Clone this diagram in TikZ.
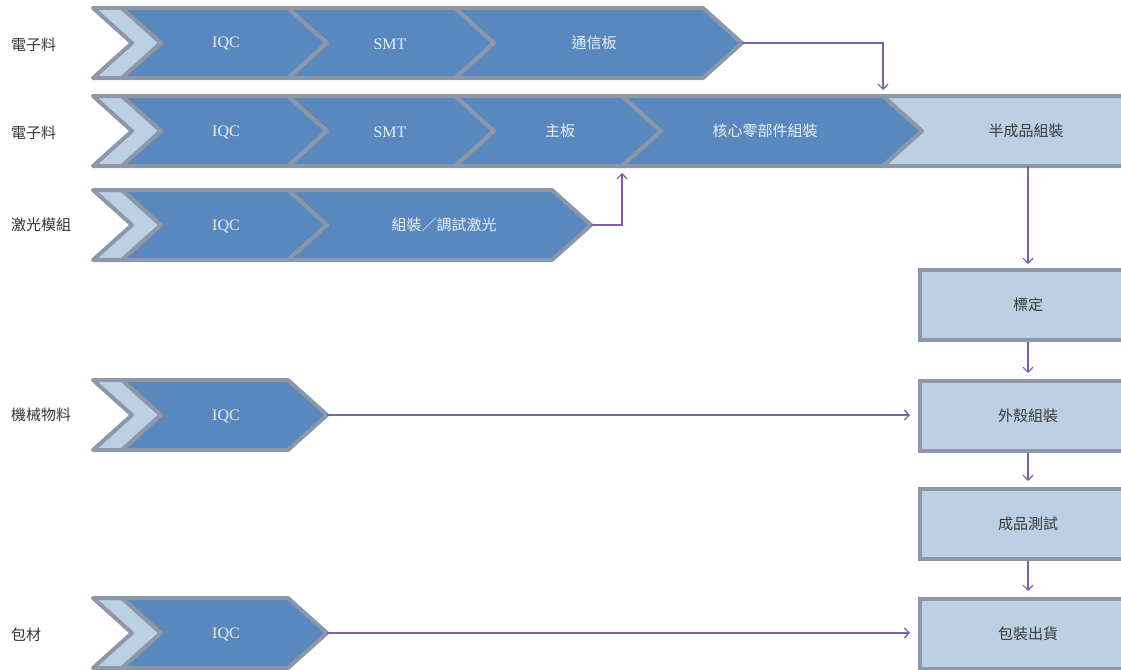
\documentclass[tikz,border=0pt]{standalone}
\usepackage{fontspec}
\setmainfont{Liberation Serif}
\newfontfamily\cjk{Noto Sans CJK TC}
\usetikzlibrary{arrows.meta}
\definecolor{darkc}{HTML}{5888BE}
\definecolor{lightc}{HTML}{BBD0E3}
\definecolor{bordc}{HTML}{8E97A8}
\definecolor{arrowc}{HTML}{7E60A8}
\definecolor{wtext}{HTML}{E8EEF6}
\definecolor{dtext}{HTML}{3A3A3A}
\definecolor{ltext}{HTML}{333333}
\newcommand{\chev}[4]{% fill, x0, x1, ymid
  \filldraw[piece, fill=#1] (#2,#4-35) -- (#3,#4-35) -- (#3+39,#4) -- (#3,#4+35) -- (#2,#4+35) -- (#2+39,#4) -- cycle;}
\tikzset{
  piece/.style={draw=bordc, line width=4pt, line join=round},
  lat/.style={text=wtext, font=\fontsize{16}{16}\selectfont, inner sep=0pt},
  cj/.style={text=wtext, font=\cjk\fontsize{15}{15}\selectfont, inner sep=0pt},
  cjd/.style={text=dtext, font=\cjk\fontsize{15}{15}\selectfont, inner sep=0pt},
  lab/.style={text=ltext, font=\cjk\fontsize{15}{15}\selectfont, anchor=west, inner sep=0pt},
  rbox/.style={draw=bordc, fill=lightc, line width=4pt, minimum width=216pt, minimum height=70pt, inner sep=0pt, text=dtext, font=\cjk\fontsize{15}{15}\selectfont},
  conn/.style={draw=arrowc, line width=1.2pt, -{Straight Barb[length=5pt,width=10pt]}}
}
\begin{document}
\begin{tikzpicture}[x=1pt,y=-1pt]
\useasboundingbox (0,0) rectangle (1121,669);
\clip (0,0) rectangle (1121,669);
% Row 1
\chev{lightc}{93}{122}{43}
\chev{darkc}{122}{288}{43}
\chev{darkc}{288}{455}{43}
\chev{darkc}{455}{703}{43}
\node[lab] (l1) at (11,45) {電子料};
\node[lat] (r1a) at (226,44) {IQC};
\node[lat] (r1b) at (390,44) {SMT};
\node[cj] (r1c) at (594,43) {通信板};
\coordinate (t1) at (742,43);
% Row 2
\chev{lightc}{93}{122}{131}
\chev{darkc}{122}{288}{131}
\chev{darkc}{288}{455}{131}
\chev{darkc}{455}{622}{131}
\chev{darkc}{622}{883}{131}
\filldraw[piece, fill=lightc] (883,96) -- (1140,96) -- (1140,166) -- (883,166) -- (922,131) -- cycle;
\node[lab] (l2) at (11,133) {電子料};
\node[lat] (r2a) at (226,132) {IQC};
\node[lat] (r2b) at (390,132) {SMT};
\node[cj] (r2c) at (560,131) {主板};
\node[cj] (r2d) at (765,131) {核心零部件組裝};
\node[cjd] (r2e) at (1026,131) {半成品組裝};
\coordinate (m2top) at (883,96);
\coordinate (m2bot) at (622,166);
\coordinate (hb) at (1028,166);
% Row 3
\chev{lightc}{93}{122}{225}
\chev{darkc}{122}{288}{225}
\chev{darkc}{288}{552}{225}
\node[lab] (l3) at (11,225) {激光模組};
\node[lat] (r3a) at (226,226) {IQC};
\node[cj] (r3b) at (444,225) {組裝／調試激光};
\coordinate (t3) at (591,225);
% Row 4
\chev{lightc}{93}{122}{415}
\chev{darkc}{122}{288}{415}
\node[lab] (l4) at (11,415) {機械物料};
\node[lat] (r4a) at (226,416) {IQC};
\coordinate (t4) at (327,415);
% Row 5
\chev{lightc}{93}{122}{633}
\chev{darkc}{122}{288}{633}
\node[lab] (l5) at (11,635) {包材};
\node[lat] (r5a) at (226,634) {IQC};
\coordinate (t5) at (327,633);
% Right column
\node[rbox] (bd) at (1028,305) {標定};
\node[rbox] (wk) at (1028,416) {外殼組裝};
\node[rbox] (cp) at (1028,524) {成品測試};
\node[rbox] (bz) at (1028,634) {包裝出貨};
% Connectors
\draw[conn, shorten >=6pt] (t1) -| (m2top);
\draw[conn, shorten >=7pt] (t3) -| (m2bot);
\draw[conn, shorten >=4pt] (hb) -- (bd.north);
\draw[conn, shorten >=6pt] (bd.south) -- (wk.north);
\draw[conn, shorten >=6pt] (wk.south) -- (cp.north);
\draw[conn, shorten >=6pt] (cp.south) -- (bz.north);
\draw[conn, shorten >=8pt] (t4) -- (t4 -| wk.west);
\draw[conn, shorten >=8pt] (t5) -- (t5 -| bz.west);
\end{tikzpicture}
\end{document}
